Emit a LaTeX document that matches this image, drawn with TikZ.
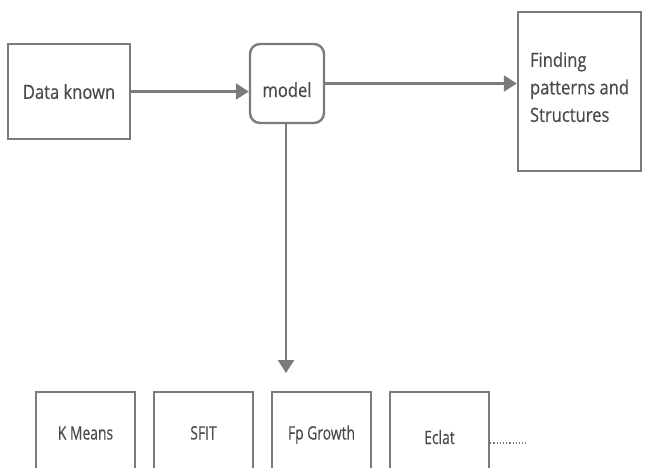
\documentclass[tikz,border=0pt]{standalone}
\usepackage{fontspec}
\setmainfont{Open Sans}[FakeStretch=0.85,FakeBold=0.4]
\newfontfamily\narrowfont{Open Sans}[FakeStretch=0.75,FakeBold=0.4]
\usetikzlibrary{arrows.meta}
\definecolor{linegray}{HTML}{7B7B7B}
\definecolor{textgray}{HTML}{4A4A4A}

\begin{document}
\begin{tikzpicture}[x=1pt,y=-1pt]
  \tikzstyle{every node}=[font=\fontsize{19.5}{27.5}\selectfont, text=textgray]
  \tikzstyle{box}=[draw=linegray, line width=2.4pt, inner sep=0pt]
  \tikzstyle{algo}=[box, minimum width=99, minimum height=90, font=\narrowfont\fontsize{18.5}{22}\selectfont]
  \tikzstyle{flow}=[draw=linegray, line width=2.4pt, -{Triangle[length=13pt,width=16pt]}]

  \useasboundingbox (0,0) rectangle (646,467);
  \clip (0,0) rectangle (646,467);

  \node[box, minimum width=122, minimum height=95] (dataknown) at (69,91.5) {Data known};

  \node[box, rounded corners=10pt, minimum width=74, minimum height=79,
        text height=31pt, text depth=4pt] (model) at (287,83.5) {model};

  \node[box, minimum width=123, minimum height=159] (finding) at (579.5,91.5) {};
  \node[align=left, anchor=north west, inner sep=0pt] (findingtext)
        at ([xshift=13,yshift=-41]finding.north west) {Finding\\patterns and\\Structures};


  \node[algo, text height=9pt, text depth=4pt] (kmeans) at (85.5,437) {K Means};

  \node[algo, text height=9pt, text depth=4pt] (sfit) at (203.5,437) {SFIT};

  \node[algo, text height=9pt, text depth=4pt] (fpgrowth) at (321.5,437) {Fp Growth};

  \node[algo, text height=18pt, text depth=4pt] (eclat) at (439.5,437) {Eclat};


  \coordinate (modelout) at (286,373);
  \coordinate (more) at (526,443);

   \draw[flow] (dataknown.east) -- (dataknown.east -| model.west);
   \draw[flow] (model.east) -- (model.east -| finding.west);
   \draw[flow] (model.south -| modelout) -- (modelout);
   \draw[linegray, line width=1.2pt, dotted] (eclat.east |- more) -- (more);

\end{tikzpicture}
\end{document}
